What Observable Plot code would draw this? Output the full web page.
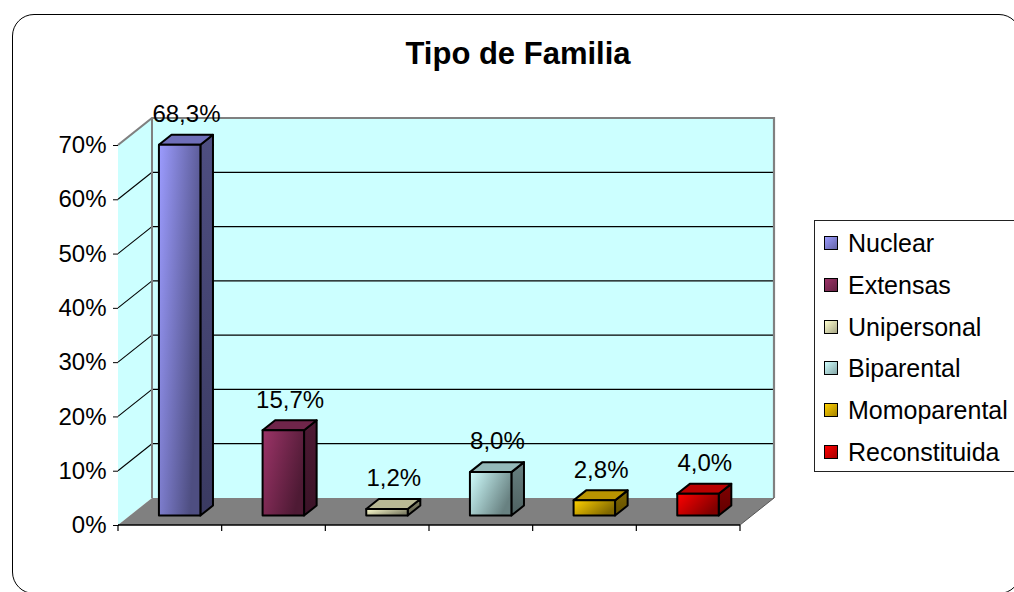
<!DOCTYPE html>
<html>
<head>
<meta charset="utf-8">
<script src="https://cdn.jsdelivr.net/npm/d3@7"></script>
<script src="https://cdn.jsdelivr.net/npm/@observablehq/plot@0.6"></script>
<style>
html,body{margin:0;padding:0;background:#fff;}
#wrap{position:relative;width:1014px;height:592px;overflow:hidden;font-family:"Liberation Sans",Arial,sans-serif;color:#000;background:#fff;}
#chart{position:absolute;left:0;top:0;}
#frame{position:absolute;left:12px;top:14px;width:1009px;height:580px;box-sizing:border-box;border:1.5px solid #000;border-radius:22px;pointer-events:none;}
#title{position:absolute;left:0;width:1036px;top:35px;text-align:center;font-weight:bold;font-size:31px;line-height:37px;white-space:nowrap;}
#legend{position:absolute;left:814px;top:220px;width:220px;height:252px;box-sizing:border-box;border:1.5px solid #222;background:#fff;}
.sw{position:absolute;left:824px;width:14px;height:14px;box-sizing:border-box;border:1.5px solid #000;}
.lt{position:absolute;left:848px;font-size:25px;line-height:42px;height:42px;white-space:nowrap;}
</style>
</head>
<body>
<div id="wrap">
  <div id="chart"></div>
  <div id="frame"></div>
  <div id="title">Tipo de Familia</div>
  <div id="legend"></div>
</div>
<script>
// ---- data ----
const categories = ["Nuclear", "Extensas", "Unipersonal", "Biparental", "Momoparental", "Reconstituida"];
const values = [68.3, 15.7, 1.2, 8.0, 2.8, 4.0];
const colors = ["#9999FF", "#993366", "#FFFFCC", "#CCFFFF", "#FFCC00", "#FF0000"];
const yTicks = [0, 10, 20, 30, 40, 50, 60, 70];
const gridTicks = [10, 20, 30, 40, 50, 60];
const titleText = "Tipo de Familia";

const rows = categories.map((c, i) => ({
  i, category: c, value: values[i], color: colors[i],
  label: values[i].toFixed(1).replace(".", ",") + "%"
}));

// ---- 3D geometry (pixel depth vector) ----
const N = categories.length;
const Y_MAX = 70;
const DX = 34, DY = -27;          // full depth of the plot box
const F0 = 0.35, F1 = 0.72;       // bar depth span (fraction of full depth)
const BAR0 = 0.28, BAR1 = 0.68;   // bar span within its category
const WALL = "#CCFFFF";
const EDGE = "#808080";

function walls(index, scales) {
  const {x, y} = scales;
  const g = d3.create("svg:g");
  const x0 = x(0), x1 = x(N), y0 = y(0), yT = y(Y_MAX);
  g.append("path")
    .attr("d", `M${x0},${y0}L${x0 + DX},${y0 + DY}L${x0 + DX},${yT + DY}L${x0},${yT}Z`)
    .attr("fill", WALL);
  g.append("rect")
    .attr("x", x0 + DX).attr("y", yT + DY)
    .attr("width", x1 - x0).attr("height", y0 - yT)
    .attr("fill", WALL);
  gridTicks.forEach(t => {
    g.append("line")
      .attr("x1", x0 + DX).attr("x2", x1 + DX)
      .attr("y1", y(t) + DY).attr("y2", y(t) + DY)
      .attr("stroke", "#000").attr("stroke-width", 1.2);
    g.append("line")
      .attr("x1", x0).attr("x2", x0 + DX)
      .attr("y1", y(t)).attr("y2", y(t) + DY)
      .attr("stroke", "#000").attr("stroke-width", 1.1);
  });
  g.append("path")
    .attr("d", `M${x0},${yT}L${x0 + DX},${yT + DY}L${x1 + DX},${yT + DY}L${x1 + DX},${y0 + DY}`)
    .attr("fill", "none").attr("stroke", EDGE).attr("stroke-width", 2.2);
  g.append("line")
    .attr("x1", x0 + DX).attr("x2", x0 + DX)
    .attr("y1", yT + DY).attr("y2", y0 + DY)
    .attr("stroke", EDGE).attr("stroke-width", 2);
  g.append("path")
    .attr("d", `M${x0},${y0}L${x1},${y0}L${x1 + DX},${y0 + DY}L${x0 + DX},${y0 + DY}Z`)
    .attr("fill", "#808080");
  g.append("line")
    .attr("x1", x1).attr("x2", x1 + DX).attr("y1", y0).attr("y2", y0 + DY)
    .attr("stroke", "#555").attr("stroke-width", 1);
  g.append("line")
    .attr("x1", x0).attr("x2", x1).attr("y1", y0).attr("y2", y0)
    .attr("stroke", "#000").attr("stroke-width", 1.6);
  d3.range(N + 1).forEach(k => {
    g.append("line")
      .attr("x1", x(k)).attr("x2", x(k)).attr("y1", y0).attr("y2", y0 + 6)
      .attr("stroke", "#000").attr("stroke-width", 1.2);
  });
  return g.node();
}

function bars3d(index, scales) {
  const {x, y} = scales;
  const g = d3.create("svg:g");
  const defs = g.append("defs");
  const ox = (F1 - F0) * DX, oy = (F1 - F0) * DY;
  rows.forEach(d => {
    const c = d3.rgb(d.color);
    const gid = "front" + d.i;
    const lg = defs.append("linearGradient").attr("id", gid)
      .attr("x1", 0).attr("y1", 0).attr("x2", 1).attr("y2", 0.5);
    lg.append("stop").attr("offset", 0).attr("stop-color", c.brighter(0.05).formatHex());
    lg.append("stop").attr("offset", 1).attr("stop-color", c.darker(1.9).formatHex());
    const sid = "side" + d.i;
    const sg = defs.append("linearGradient").attr("id", sid)
      .attr("x1", 0).attr("y1", 0).attr("x2", 0).attr("y2", 1);
    sg.append("stop").attr("offset", 0).attr("stop-color", c.darker(1.9).formatHex());
    sg.append("stop").attr("offset", 1).attr("stop-color", c.darker(2.7).formatHex());

    const xl = x(d.i + BAR0) + F0 * DX, xr = x(d.i + BAR1) + F0 * DX;
    const yb = y(0) + F0 * DY, yt = y(d.value) + F0 * DY;
    const common = sel => sel.attr("stroke", "#000").attr("stroke-width", 2).attr("stroke-linejoin", "round");
    g.append("path")
      .attr("d", `M${xr},${yt}L${xr + ox},${yt + oy}L${xr + ox},${yb + oy}L${xr},${yb}Z`)
      .attr("fill", `url(#${sid})`).call(common);
    g.append("path")
      .attr("d", `M${xl},${yt}L${xl + ox},${yt + oy}L${xr + ox},${yt + oy}L${xr},${yt}Z`)
      .attr("fill", c.darker(0.9).formatHex()).call(common);
    g.append("rect")
      .attr("x", xl).attr("y", yt).attr("width", xr - xl).attr("height", yb - yt)
      .attr("fill", `url(#${gid})`).call(common);
  });
  return g.node();
}

const MID = (F0 + F1) / 2;

const chart = Plot.plot({
  width: 1014,
  height: 592,
  marginLeft: 118,
  marginRight: 1014 - 740,
  marginTop: 145,
  marginBottom: 592 - 525,
  style: {fontFamily: "'Liberation Sans', Arial, sans-serif", fontSize: "24px", color: "#000", background: "transparent", overflow: "visible"},
  x: {type: "linear", domain: [0, N], axis: null},
  y: {domain: [0, Y_MAX], ticks: yTicks, tickFormat: d => d + "%", tickSize: 5, tickPadding: 7, label: null, line: true},
  marks: [
    walls,
    Plot.ruleY([0], {x1: 0, x2: N, stroke: "#000", strokeOpacity: 0}),
    bars3d,
    Plot.text(rows, {
      x: d => d.i + (BAR0 + BAR1) / 2,
      y: "value",
      text: "label",
      dx: MID * DX,
      dy: MID * DY - 26,
      fill: "#000",
      fontSize: 24
    })
  ]
});
document.getElementById("chart").appendChild(chart);

// ---- legend ----
const wrap = document.getElementById("wrap");
const LEG_Y0 = 243, LEG_STEP = 41.8;
rows.forEach((d, k) => {
  const cy = LEG_Y0 + k * LEG_STEP;
  const c = d3.rgb(d.color);
  const sw = document.createElement("div");
  sw.className = "sw";
  sw.style.top = (cy - 7) + "px";
  sw.style.background = `linear-gradient(135deg, ${c.brighter(0.05).formatHex()}, ${c.darker(1.2).formatHex()})`;
  wrap.appendChild(sw);
  const t = document.createElement("div");
  t.className = "lt";
  t.style.top = (cy - 21) + "px";
  t.textContent = d.category;
  wrap.appendChild(t);
});
document.getElementById("title").textContent = titleText;
</script>
</body>
</html>
